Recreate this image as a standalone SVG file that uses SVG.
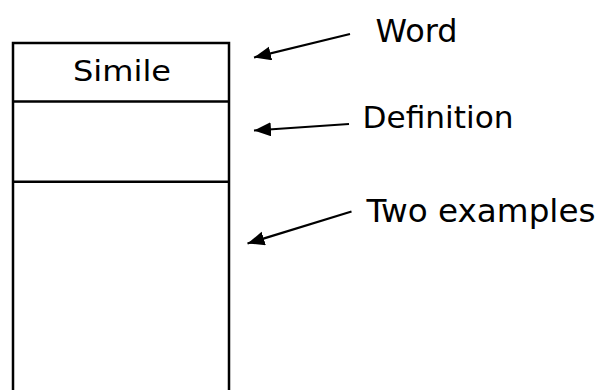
<svg xmlns="http://www.w3.org/2000/svg" width="606" height="390" viewBox="0 0 606 390">
<style>
.box{fill:none;stroke:#000;stroke-width:2.5}
.lbl{font-family:"DejaVu Sans","Tahoma",sans-serif;fill:#000}
.conn{stroke:#000;stroke-width:2.2;fill:none}
</style>
<defs>
<marker id="ah" markerUnits="userSpaceOnUse" markerWidth="20" markerHeight="16" refX="17" refY="7" orient="auto">
<path d="M0,0 L17,7 L0,14 Z" fill="#000"/>
</marker>
</defs>
<rect width="606" height="390" fill="#fff"/>
<g id="card">
<path class="box" d="M13,392 V43 H229 V392"/>
<line class="box" x1="13" y1="101.5" x2="229" y2="101.5"/>
<line class="box" x1="13" y1="181.8" x2="229" y2="181.8"/>
<text class="lbl" x="122" y="80.7" font-size="29" text-anchor="middle" textLength="98" lengthAdjust="spacingAndGlyphs">Simile</text>
</g>
<g id="label-word">
<text class="lbl" x="375.5" y="41.7" font-size="32" textLength="82" lengthAdjust="spacingAndGlyphs">Word</text>
</g>
<g id="label-definition">
<text class="lbl" x="362.5" y="128.3" font-size="30" textLength="151" lengthAdjust="spacingAndGlyphs">Definition</text>
</g>
<g id="label-examples">
<text class="lbl" x="366.5" y="221.7" font-size="32" textLength="229" lengthAdjust="spacingAndGlyphs">Two examples</text>
</g>
<g id="connectors">
<line class="conn" x1="350" y1="34" x2="254" y2="57.5" marker-end="url(#ah)"/>
<line class="conn" x1="349" y1="124" x2="254" y2="130.5" marker-end="url(#ah)"/>
<line class="conn" x1="351.5" y1="211.5" x2="247.5" y2="243.5" marker-end="url(#ah)"/>
</g>
</svg>
